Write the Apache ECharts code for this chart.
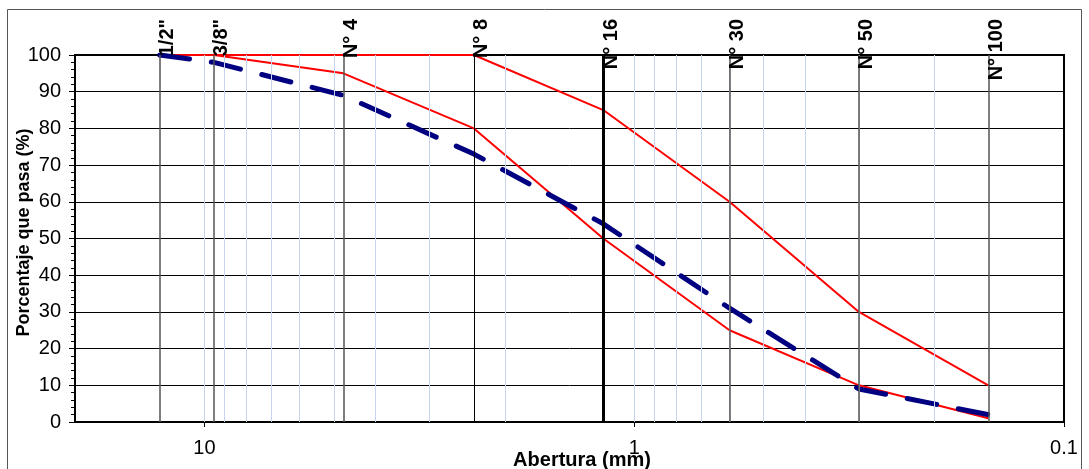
<!DOCTYPE html>
<html><head><meta charset="utf-8">
<script src="https://cdn.jsdelivr.net/npm/echarts@6/dist/echarts.min.js"></script>
<style>html,body{margin:0;padding:0;background:#fff}#c{width:1089px;height:469px}</style>
</head><body><div id="c"></div>
<script>
// Sieve names and openings (mm)
const sieveNames = ['1/2"', '3/8"', 'N° 4', 'N° 8', 'N° 16', 'N° 30', 'N° 50', 'N° 100'];
const sieveSizes = [12.7, 9.5, 4.75, 2.36, 1.18, 0.6, 0.3, 0.15];
// % passing
const upperLimit = [100, 100, 100, 100, 85, 60, 30, 10];
const lowerLimit = [100, 100, 95, 80, 50, 25, 10, 1];
const sample     = [100, 98, 89, 73, 54, 31, 9, 2];
// light vertical gridlines (log minor divisions)
const minorGridValues = [0.2, 0.3, 0.4, 0.5, 0.6, 0.7, 0.8, 0.9, 1, 2, 3, 4, 5, 6, 7, 8, 9, 10];
const xTickLabels = ['0.1', '1', '10'];

const FONT = '"Liberation Sans", Arial, sans-serif';
const chart = echarts.init(document.getElementById('c'), null, {renderer: 'canvas'});

function sieveLineStyle(name) {
  if (name === 'N° 16') return {color: '#000', width: 3, type: 'solid'};
  if (name === 'N° 8') return {color: '#000', width: 1, type: 'solid'};
  return {color: '#555', width: 1.5, type: 'solid'};
}
const pairs = arr => sieveSizes.map((s, i) => [s, arr[i]]);

chart.setOption({
  animation: false,
  backgroundColor: '#fff',
  grid: {left: 75, right: 25, top: 55, bottom: 47, show: true, borderColor: '#000', borderWidth: 2,
         containLabel: false, outerBoundsMode: 'none'},
  xAxis: {
    type: 'log', logBase: 10, min: 0.1, max: 20, inverse: true,
    name: 'Abertura (mm)', nameLocation: 'middle', nameGap: 28, nameMoveOverlap: false,
    nameTextStyle: {fontFamily: FONT, fontSize: 20, fontWeight: 'bold', color: '#000', padding: [0, 0, 0, 25]},
    axisLine: {show: true, lineStyle: {color: '#000', width: 2}},
    axisTick: {show: true, length: 5, lineStyle: {color: '#000', width: 1}},
    axisLabel: {
      fontFamily: FONT, fontSize: 20, color: '#000', margin: 16, showMaxLabel: false,
      formatter: v => { const s = xTickLabels.find(t => Math.abs(parseFloat(t) - v) < 1e-9); return s || ''; }
    },
    splitLine: {show: false}, minorTick: {show: false}
  },
  yAxis: {
    type: 'value', min: 0, max: 100, interval: 10,
    name: 'Porcentaje que pasa (%)', nameLocation: 'middle', nameGap: 42, nameRotate: 90, nameMoveOverlap: false,
    nameTextStyle: {fontFamily: FONT, fontSize: 18, fontWeight: 'bold', color: '#000', padding: [0, 0, 0, 12]},
    axisLine: {show: true, lineStyle: {color: '#000', width: 2}},
    axisTick: {show: true, length: 6, lineStyle: {color: '#000', width: 1}},
    minorTick: {show: true, splitNumber: 5, length: 4, lineStyle: {color: '#000', width: 1}},
    axisLabel: {fontFamily: FONT, fontSize: 20, color: '#000', margin: 14},
    splitLine: {show: true, lineStyle: {color: '#000', width: 1}}
  },
  series: [
    {
      name: 'grid', type: 'line', data: [], silent: true, z: 1,
      markLine: {
        silent: true, symbol: 'none', animation: false, label: {show: false},
        lineStyle: {color: '#c6d4ee', width: 1, type: 'solid'},
        data: minorGridValues.map(v => ({xAxis: v}))
      }
    },
    {
      name: 'sieves', type: 'line', data: [], silent: true, z: 2,
      markLine: {
        silent: true, symbol: 'none', animation: false, label: {show: false},
        data: sieveSizes.map((v, i) => ({xAxis: v, lineStyle: sieveLineStyle(sieveNames[i])}))
      }
    },
    {
      name: 'Límite superior', type: 'line', data: pairs(upperLimit), showSymbol: false, symbol: 'none', z: 3,
      lineStyle: {color: '#ff0000', width: 2}
    },
    {
      name: 'Límite inferior', type: 'line', data: pairs(lowerLimit), showSymbol: false, symbol: 'none', z: 3,
      lineStyle: {color: '#ff0000', width: 2}
    },
    {
      name: 'Muestra', type: 'line', data: pairs(sample), showSymbol: false, symbol: 'none', z: 4,
      lineStyle: {color: '#000080', width: 5, type: [30, 22], cap: 'round'}
    }
  ]
});

const graphics = [{
  type: 'rect', id: 'frame', silent: true, z: 0,
  shape: {x: 7.5, y: 9.5, width: 1074, height: 470},
  style: {fill: 'none', stroke: '#555', lineWidth: 1}
}];
sieveSizes.forEach((s, i) => {
  const px = chart.convertToPixel({xAxisIndex: 0}, s);
  graphics.push({
    type: 'text', id: 'lbl' + i, silent: true, z: 10,
    x: px - 2, y: 19, rotation: Math.PI / 2,
    style: {text: sieveNames[i], font: 'bold 20px ' + FONT, fill: '#000',
            align: 'right', verticalAlign: 'top', textAlign: 'right', textVerticalAlign: 'top'}
  });
});
chart.setOption({graphic: graphics});
</script>
</body></html>
